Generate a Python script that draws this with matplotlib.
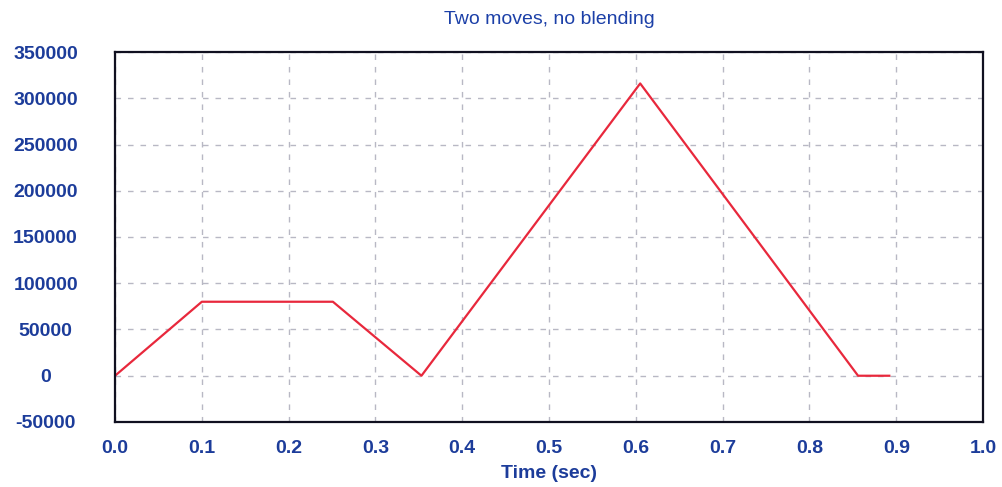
import matplotlib
matplotlib.use('Agg')
import matplotlib.pyplot as plt

# move profile
time_sec = [0.0, 0.1, 0.251, 0.353, 0.605, 0.856, 0.892]
position = [0, 80000, 80000, 0, 316000, 0, 0]

x_ticks = [0.0, 0.1, 0.2, 0.3, 0.4, 0.5, 0.6, 0.7, 0.8, 0.9, 1.0]
y_ticks = [-50000, 0, 50000, 100000, 150000, 200000, 250000, 300000, 350000]

text_blue = '#1c3c9a'

plt.rcParams['font.family'] = ['Liberation Sans', 'DejaVu Sans']

fig = plt.figure(figsize=(10.02, 4.87), dpi=100)
ax = fig.add_axes([0.1148, 0.1335, 0.8663, 0.7597])

ax.plot(time_sec, position, color='#e8283c', lw=1.6)

ax.set_xlim(0, 1.0)
ax.set_ylim(-50000, 346000)
ax.set_xticks(x_ticks)
ax.set_xticklabels(['%.1f' % t for t in x_ticks])
ax.set_yticks(y_ticks)
ax.set_yticklabels([str(v) for v in y_ticks])

ax.grid(True, color='#b8b8c4', linestyle=(0, (4, 5)), lw=1.0)
ax.tick_params(length=0, labelsize=14, labelcolor=text_blue)
ax.tick_params(axis='x', pad=13)
ax.tick_params(axis='y', pad=50)
for lbl in ax.get_yticklabels():
    lbl.set_horizontalalignment('center')
    lbl.set_fontweight('bold')
for lbl in ax.get_xticklabels():
    lbl.set_fontweight('bold')

for sp in ax.spines.values():
    sp.set_color('#101020')
    sp.set_linewidth(1.6)

ax.set_xlabel('Time (sec)', fontsize=14, fontweight='bold', color=text_blue, labelpad=6)
ax.set_title('Two moves, no blending', fontsize=14, color='#1c40a8', pad=20)

fig.savefig('out.png', dpi=100)
